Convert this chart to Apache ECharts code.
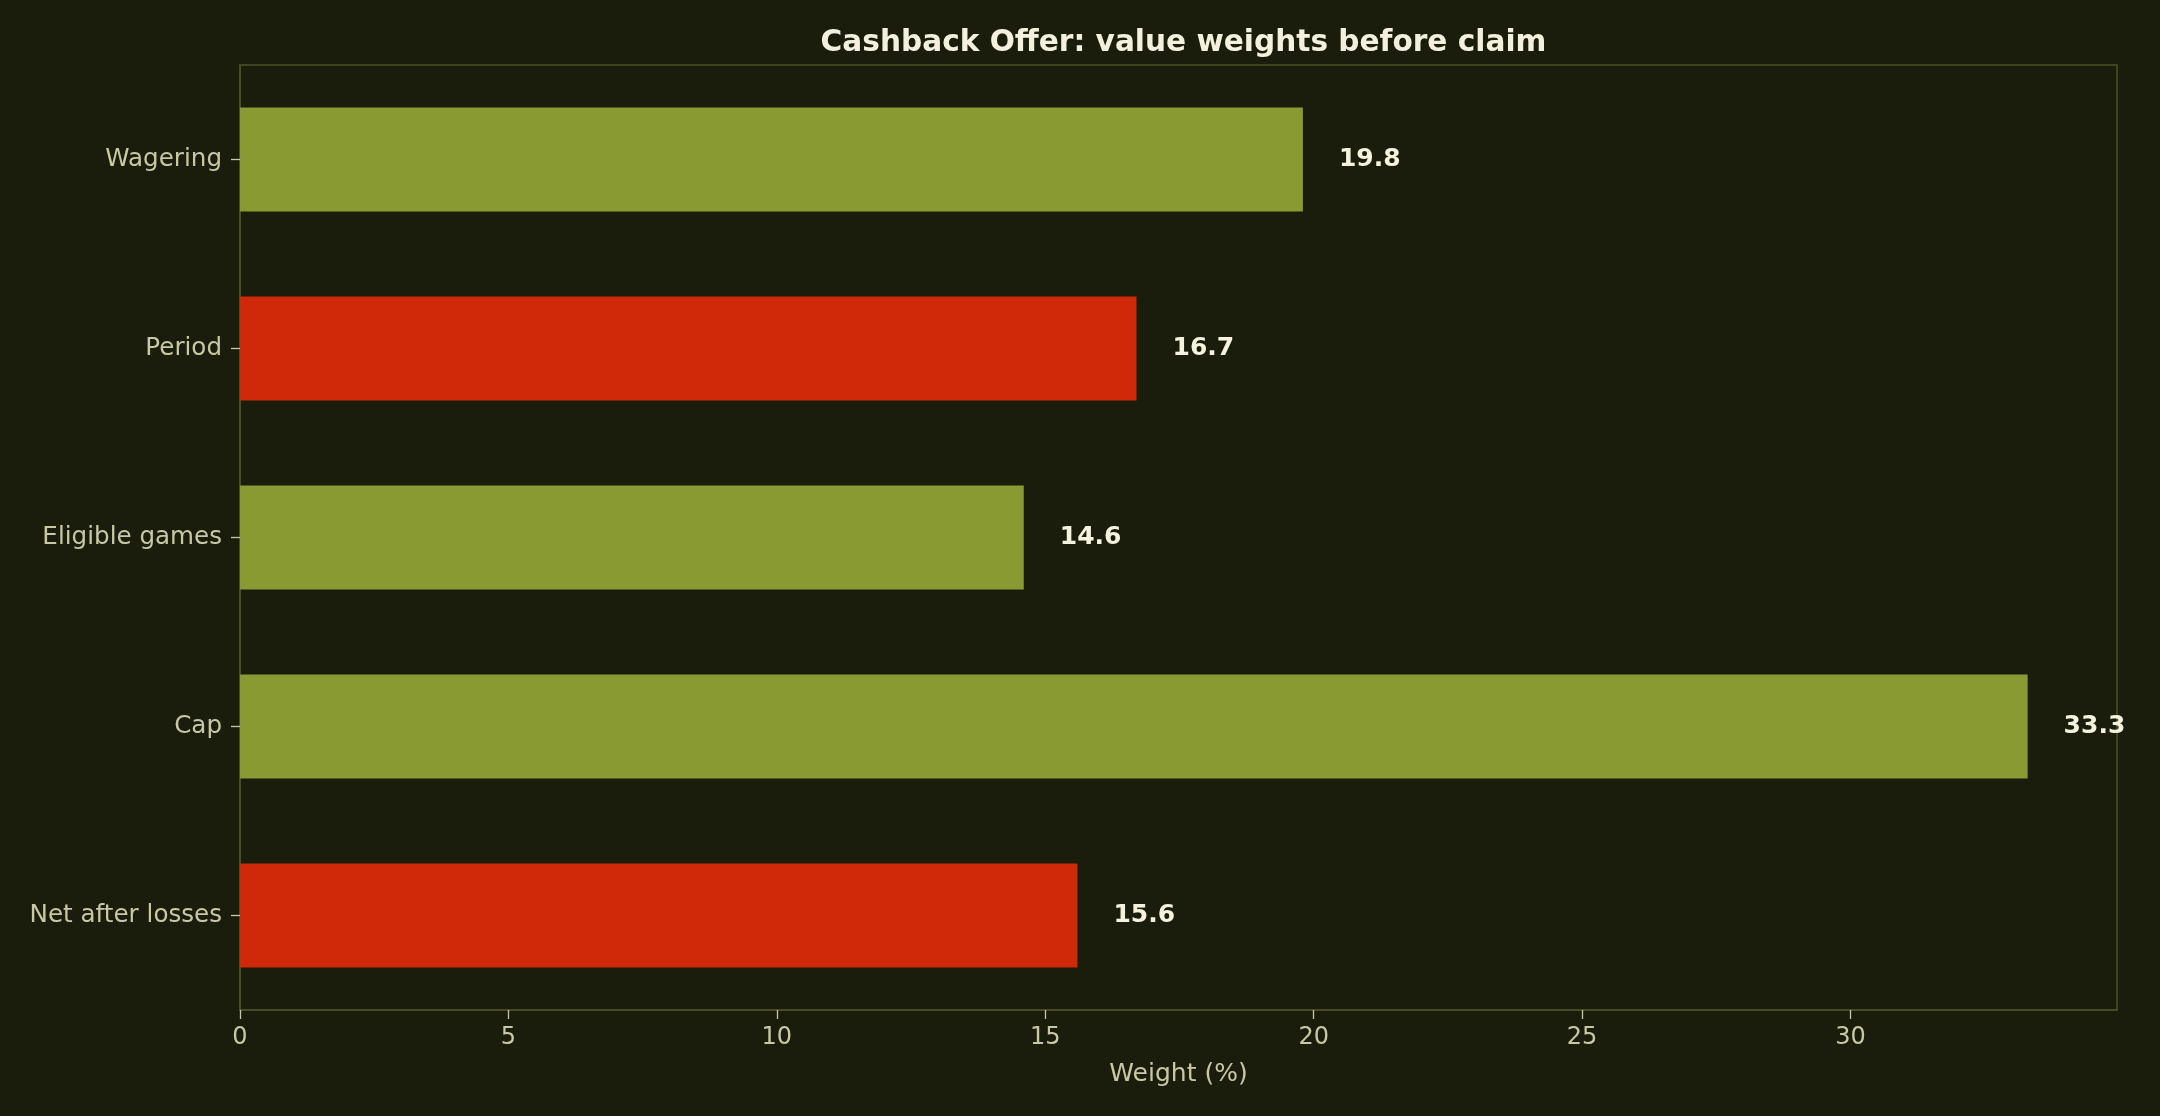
<!DOCTYPE html>
<html>
<head>
<meta charset="utf-8">
<script src="https://cdn.jsdelivr.net/npm/echarts@6/dist/echarts.min.js"></script>
<style>
html,body{margin:0;padding:0;background:#1b1d0c;}
#chart{width:2160px;height:1116px;}
</style>
</head>
<body>
<div id="chart"></div>
<script>
const categories = ["Wagering", "Period", "Eligible games", "Cap", "Net after losses"];
const values = [19.8, 16.7, 14.6, 33.3, 15.6];
const barColors = ["#8a9a32", "#cf290a", "#8a9a32", "#8a9a32", "#cf290a"];
const xTicks = [0, 5, 10, 15, 20, 25, 30];
const xMax = 34.965;

const chart = echarts.init(document.getElementById('chart'), null, {renderer: 'canvas'});
const font = 'DejaVu Sans';
const tickColor = '#c8c7a6';
const frameColor = '#4b5028';

chart.setOption({
  backgroundColor: '#1b1d0c',
  animation: false,
  title: {
    text: 'Cashback Offer: value weights before claim',
    left: 1178.5,
    textAlign: 'center',
    top: 23,
    textStyle: {fontFamily: font, fontSize: 29.6, fontWeight: 'bold', color: '#f3f1de'}
  },
  grid: {
    left: 240, right: 43, top: 65, bottom: 106,
    show: true, borderColor: frameColor, borderWidth: 1.5, backgroundColor: 'transparent'
  },
  xAxis: {
    type: 'value',
    min: 0, max: xMax, interval: 5,
    name: 'Weight (%)',
    nameLocation: 'middle',
    nameGap: 52,
    nameTextStyle: {fontFamily: font, fontSize: 25, color: tickColor},
    axisLine: {show: true, lineStyle: {color: frameColor, width: 1.5}},
    axisTick: {show: true, length: 9, customValues: xTicks, lineStyle: {color: tickColor, width: 1.3}},
    axisLabel: {fontFamily: font, fontSize: 24, color: tickColor, margin: 16, customValues: xTicks},
    splitLine: {show: false}
  },
  yAxis: {
    type: 'category',
    data: categories,
    inverse: true,
    axisLine: {show: true, lineStyle: {color: frameColor, width: 1.5}},
    axisTick: {show: true, length: 9, alignWithLabel: true, lineStyle: {color: tickColor, width: 1.3}},
    axisLabel: {fontFamily: font, fontSize: 24.6, color: tickColor, margin: 18, padding: [7, 0, 0, 0]},
    splitLine: {show: false}
  },
  series: [{
    type: 'bar',
    data: values.map((v, i) => ({value: v, itemStyle: {color: barColors[i]}})),
    barWidth: '55%',
    label: {
      show: true,
      position: 'right',
      distance: 36,
      formatter: p => p.value.toFixed(1),
      fontFamily: font,
      fontSize: 25,
      fontWeight: 'bold',
      color: '#f5f3df'
    }
  }]
});
</script>
</body>
</html>
